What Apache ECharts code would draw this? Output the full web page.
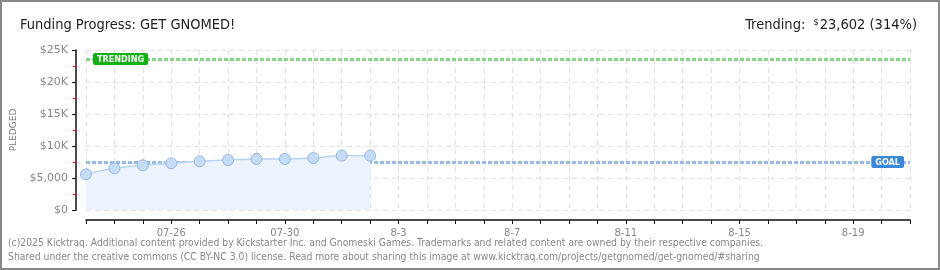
<!DOCTYPE html>
<html>
<head>
<meta charset="utf-8">
<script src="https://cdn.jsdelivr.net/npm/echarts@6/dist/echarts.min.js"></script>
<style>
  html, body { margin: 0; padding: 0; background: #fff; }
  #main { width: 940px; height: 270px; }
</style>
</head>
<body>
<div id="main"></div>
<script>
// 日期类目（07-23 到 8-21）
var days = ['07-23', '07-24', '07-25', '07-26', '07-27', '07-28', '07-29', '07-30', '07-31',
    '8-1', '8-2', '8-3', '8-4', '8-5', '8-6', '8-7', '8-8', '8-9', '8-10', '8-11',
    '8-12', '8-13', '8-14', '8-15', '8-16', '8-17', '8-18', '8-19', '8-20', '8-21'];
// 每日累计筹款
var pledged = [5580, 6510, 6980, 7290, 7600, 7810, 7970, 7970, 8120, 8490, 8490];
var goal = 7500;
var trending = 23602;

var myChart = echarts.init(document.getElementById('main'));

var font = '"DejaVu Sans Condensed", "DejaVu Sans", sans-serif';
var font2 = '"DejaVu Sans", sans-serif';

var option = {
    animation: false,
    textStyle: { fontFamily: font },
    grid: { left: 86, right: 30, top: 50, bottom: 60 },
    title: [{
        text: 'Funding Progress: GET GNOMED!',
        left: 15, top: 13,
        textStyle: { fontSize: 14.5, fontWeight: 'normal', color: '#222', fontFamily: font }
    }, {
        text: '{a|Trending:  }{s|$}{a|23,602 (314%)}',
        right: 18, top: 13,
        textStyle: {
            fontWeight: 'normal',
            rich: {
                a: { fontSize: 14.5, color: '#222', fontFamily: font, fontWeight: 'normal' },
                s: { fontSize: 9, color: '#222', fontFamily: font, fontWeight: 'normal', verticalAlign: 'top', padding: [0, 1, 6, 0] }
            }
        }
    }],
    graphic: [{
        type: 'rect',
        shape: { x: 1, y: 1, width: 938, height: 268 },
        style: { fill: 'none', stroke: '#888', lineWidth: 2 },
        silent: true
    }, {
        type: 'text', left: 8, top: 236,
        style: {
            text: '(c)2025 Kicktraq. Additional content provided by Kickstarter Inc. and Gnomeski Games. Trademarks and related content are owned by their respective companies.\nShared under the creative commons (CC BY-NC 3.0) license. Read more about sharing this image at www.kicktraq.com/projects/getgnomed/get-gnomed/#sharing',
            fill: '#888', font: '10.3px ' + font, lineHeight: 14
        }
    }],
    xAxis: {
        type: 'category',
        data: days,
        boundaryGap: false,
        offset: 10,
        axisLine: { onZero: false, lineStyle: { color: '#111', width: 1.5 } },
        axisTick: { interval: 0, length: 4, lineStyle: { color: '#111' } },
        axisLabel: {
            interval: function (i) { return i % 4 === 3; },
            color: '#888', fontSize: 10, margin: 8, fontFamily: font2
        },
        splitLine: {
            show: true, interval: 0,
            lineStyle: { color: '#e2e2e2', type: [5, 4] }
        }
    },
    yAxis: {
        type: 'value',
        min: 0, max: 25000, interval: 5000,
        offset: 10,
        name: 'PLEDGED',
        nameLocation: 'middle',
        nameGap: 56,
        nameTextStyle: { color: '#777', fontSize: 9, letterSpacing: 2, fontFamily: font2 },
        axisLine: { show: true, lineStyle: { color: '#111', width: 1.5 } },
        axisTick: { show: true, length: 4, lineStyle: { color: '#111' } },
        minorTick: { show: true, splitNumber: 2, length: 3, lineStyle: { color: '#e00' } },
        axisLabel: {
            color: '#888', fontSize: 11, margin: 8, fontFamily: font2,
            formatter: function (v) {
                return v < 10000 ? '$' + v.toLocaleString('en-US') : '$' + (v / 1000) + 'K';
            }
        },
        splitLine: { lineStyle: { color: '#e2e2e2', type: [5, 4] } }
    },
    series: [{
        type: 'line',
        data: pledged,
        smooth: true,
        symbol: 'circle',
        symbolSize: 11,
        lineStyle: { color: '#b8d4f2', width: 1.5 },
        itemStyle: { color: '#c4dcf6', borderColor: '#98b8de', borderWidth: 1 },
        areaStyle: { color: '#ecf3fc', opacity: 1 },
        z: 3,
        markLine: {
            silent: true,
            symbol: 'none',
            z: 2,
            data: [{
                yAxis: trending,
                lineStyle: { color: '#85d685', type: [4, 2], width: 3 },
                label: {
                    formatter: 'TRENDING', position: 'insideStartTop',
                    distance: [7, -6],
                    color: '#fff', fontSize: 9, fontWeight: 'bold',
                    backgroundColor: '#16b016', padding: [2, 4, 1, 4], borderRadius: 2
                }
            }, {
                yAxis: goal,
                lineStyle: { color: '#93bbe5', type: [4, 2], width: 3 },
                label: {
                    formatter: 'GOAL', position: 'insideEndTop',
                    distance: [6, -6],
                    color: '#fff', fontSize: 9, fontWeight: 'bold',
                    backgroundColor: '#3a88d8', padding: [2, 4, 1, 4], borderRadius: 2
                }
            }]
        }
    }]
};

myChart.setOption(option);
</script>
</body>
</html>
